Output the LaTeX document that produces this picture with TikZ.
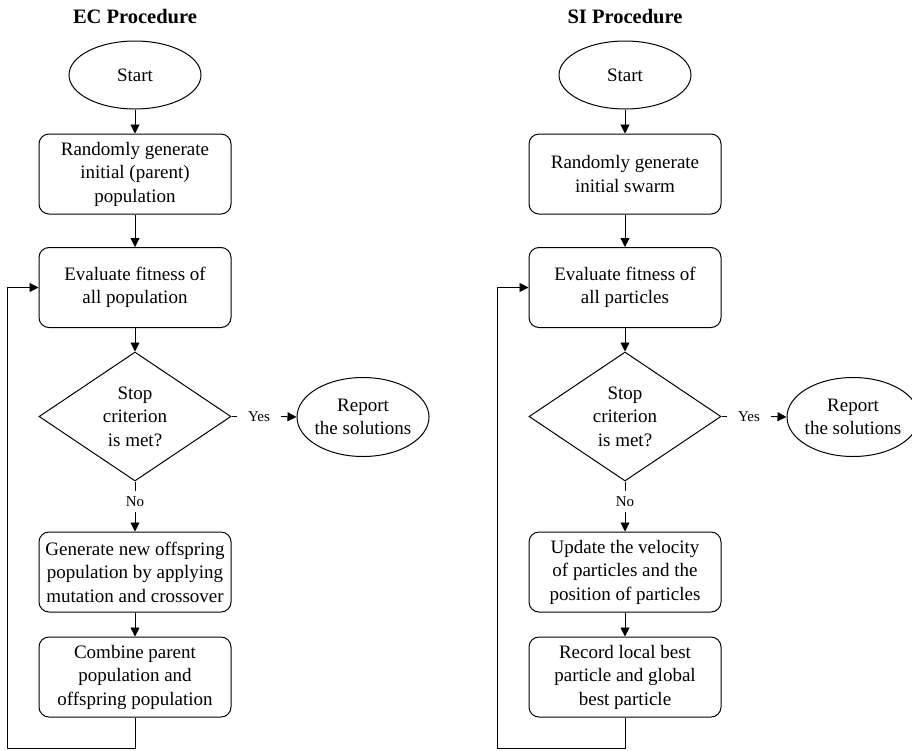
\documentclass[tikz,border=0pt]{standalone}
\usepackage{fontspec}
\setmainfont{Liberation Serif}
\usetikzlibrary{shapes.geometric,arrows.meta}

\begin{document}
\begin{tikzpicture}[x=1pt,y=-1pt,
  base/.style={draw, line width=1pt, align=center, font=\fontsize{19}{23.5}\selectfont},
  proc/.style={base, rounded corners=10pt, minimum width=192pt, minimum height=80pt, inner sep=0pt},
  term/.style={base, ellipse, inner xsep=-4pt, inner ysep=0pt},
  decide/.style={base, diamond, shape aspect=1.5, inner sep=0pt, minimum width=192pt, minimum height=129pt},
  tag/.style={font=\fontsize{15}{18}\selectfont, inner sep=0pt},
  heading/.style={font=\bfseries\fontsize{20.5}{24}\selectfont},
  flow/.style={line width=0.9pt, -{Triangle[length=9pt,width=9pt]}},
  link/.style={line width=0.9pt}
]
\useasboundingbox (0,0) rectangle (912,750);

% ---------------- EC procedure ----------------
\node[heading] (ecT) at (135,17) {EC Procedure};
\node[term, minimum width=132pt, minimum height=68pt] (ecS) at (135,75) {Start};
\node[proc] (ec1) at (135,174) {Randomly generate\\initial (parent)\\population};
\node[proc] (ec2) at (135,287.5) {Evaluate fitness of\\all population};
\node[decide] (ecD) at (135,416.5) {Stop\\criterion\\is met?};
\node[tag, minimum width=44pt] (ecY) at (259,416.5) {Yes};
\node[term, minimum width=132pt, minimum height=79pt] (ecR) at (363,417) {Report\\the solutions};
\node[tag, minimum height=21pt] (ecN) at (135,501.5) {No};
\node[proc] (ec3) at (135,572) {Generate new offspring\\population by applying\\mutation and crossover};
\node[proc] (ec4) at (135,677) {Combine parent\\population and\\offspring population};
\coordinate (ecB) at (7,748);

\draw[flow] (ecS.south) -- (ec1.north);
\draw[flow] (ec1.south) -- (ec2.north);
\draw[flow] (ec2.south) -- (ecD.north);
\draw[link] (ecD.east) -- (ecY.west);
\draw[flow] (ecY.east) -- (ecR.west);
\draw[link] (ecD.south) -- (ecN.north);
\draw[flow] (ecN.south) -- (ec3.north);
\draw[flow] (ec3.south) -- (ec4.north);
\draw[flow] (ec4.south) |- (ecB) |- (ec2.west);

% ---------------- SI procedure ----------------
\node[heading] (siT) at (625,17) {SI Procedure};
\node[term, minimum width=132pt, minimum height=68pt] (siS) at (625,75) {Start};
\node[proc] (si1) at (625,174) {Randomly generate\\initial swarm};
\node[proc] (si2) at (625,287.5) {Evaluate fitness of\\all particles};
\node[decide] (siD) at (625,416.5) {Stop\\criterion\\is met?};
\node[tag, minimum width=44pt] (siY) at (749,416.5) {Yes};
\node[term, minimum width=132pt, minimum height=79pt] (siR) at (853,417) {Report\\the solutions};
\node[tag, minimum height=21pt] (siN) at (625,501.5) {No};
\node[proc] (si3) at (625,572) {Update the velocity\\of particles and the\\position of particles};
\node[proc] (si4) at (625,677) {Record local best\\particle and global\\best particle};
\coordinate (siB) at (497,748);

\draw[flow] (siS.south) -- (si1.north);
\draw[flow] (si1.south) -- (si2.north);
\draw[flow] (si2.south) -- (siD.north);
\draw[link] (siD.east) -- (siY.west);
\draw[flow] (siY.east) -- (siR.west);
\draw[link] (siD.south) -- (siN.north);
\draw[flow] (siN.south) -- (si3.north);
\draw[flow] (si3.south) -- (si4.north);
\draw[flow] (si4.south) |- (siB) |- (si2.west);
\end{tikzpicture}
\end{document}
